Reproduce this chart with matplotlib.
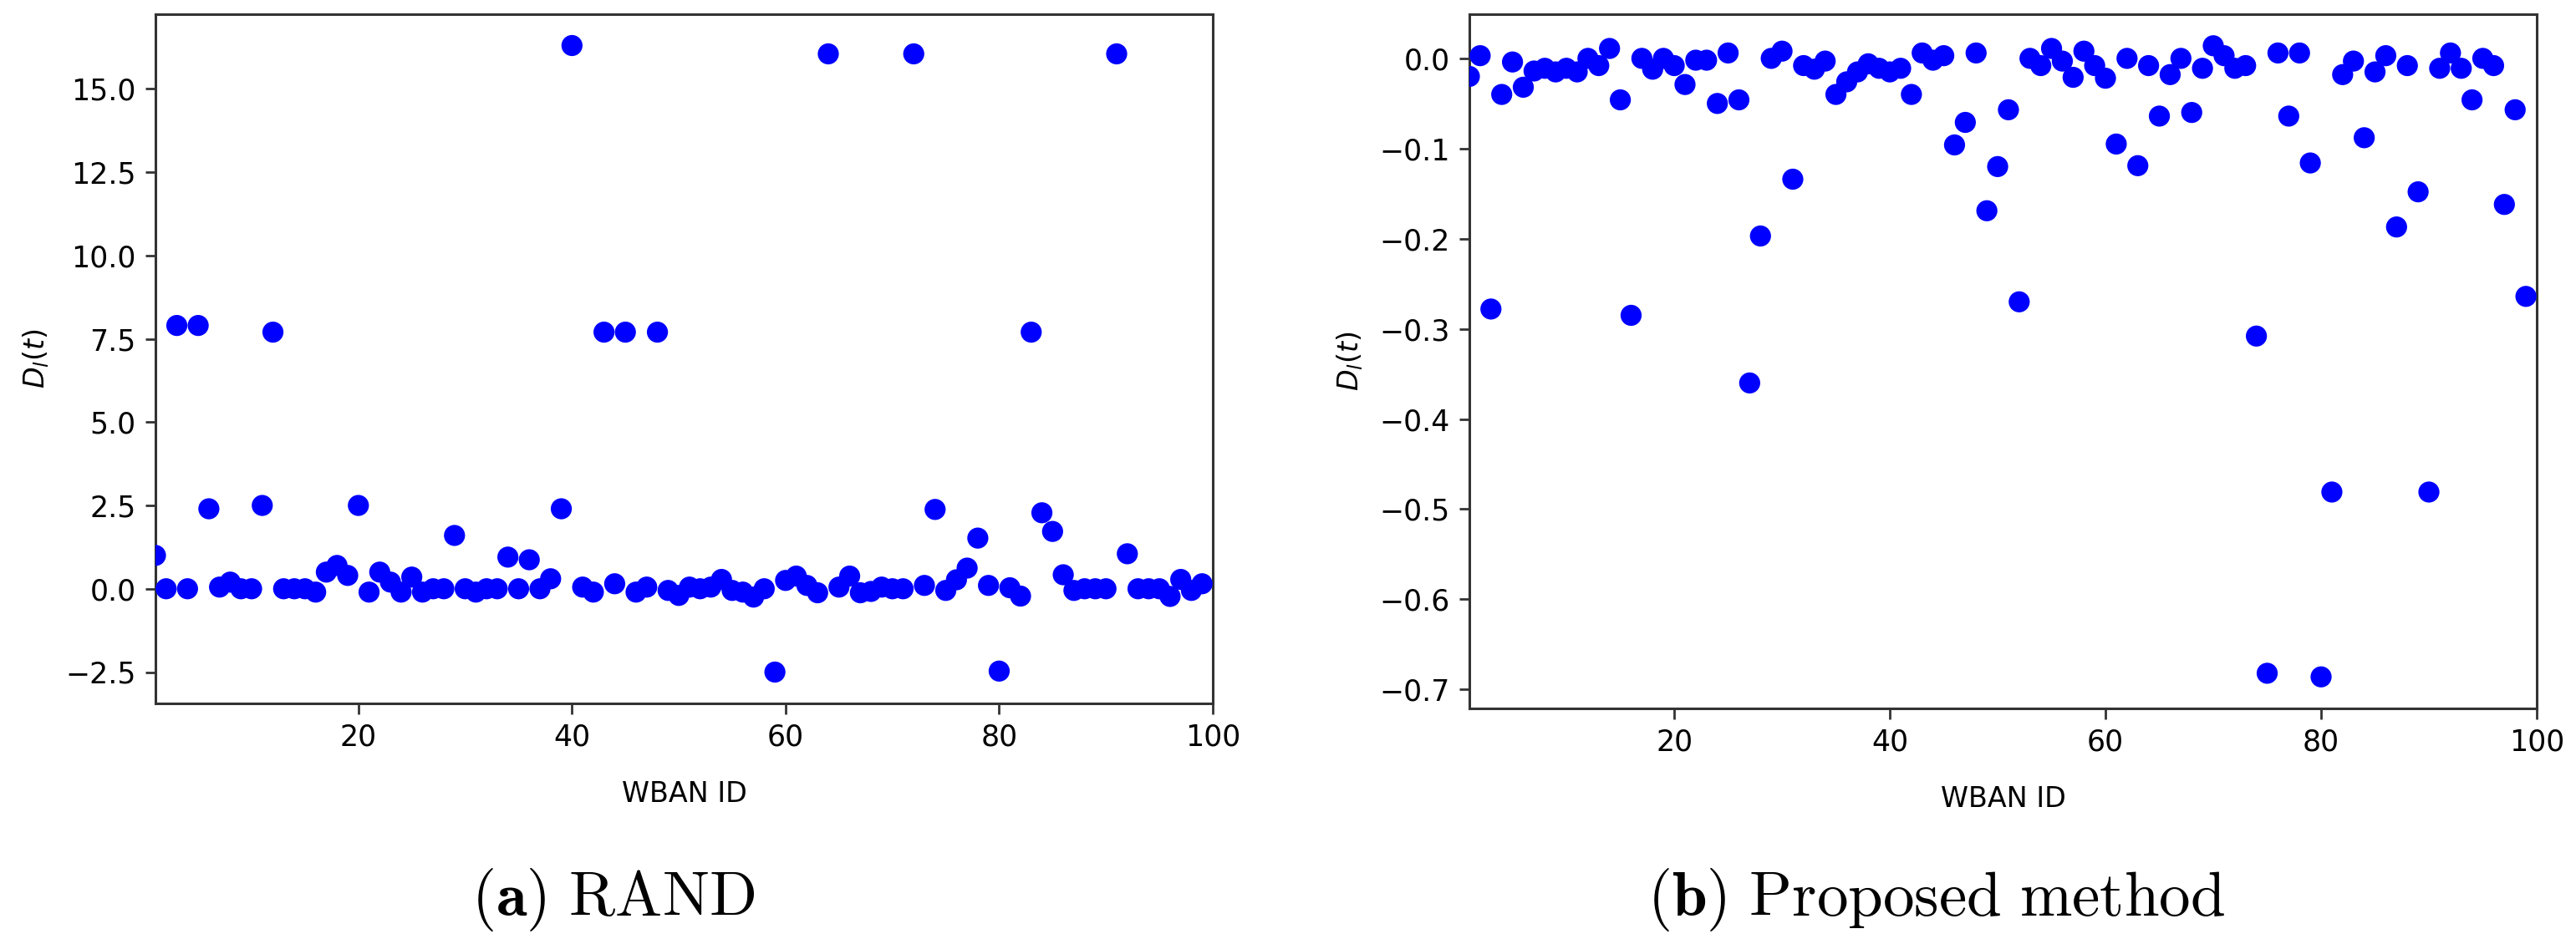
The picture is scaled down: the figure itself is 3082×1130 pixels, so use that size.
import matplotlib
matplotlib.use("Agg")
import matplotlib.pyplot as plt
import numpy as np

# WBAN ids shown on both panels
wban_id = np.arange(1, 100)

# D_l(t), RAND
rand_vals = [
    1.0, 0.0, 7.9, 0.0, 7.9, 2.4, 0.05, 0.2, 0.0, 0.0,
    2.5, 7.7, 0.0, 0.0, 0.0, -0.1, 0.5, 0.7, 0.4, 2.5,
    -0.1, 0.5, 0.2, -0.1, 0.35, -0.1, 0.0, 0.0, 1.6, 0.0,
    -0.1, 0.0, 0.0, 0.95, 0.0, 0.87, 0.0, 0.3, 2.4, 16.3,
    0.05, -0.1, 7.7, 0.15, 7.7, -0.1, 0.05, 7.7, -0.05, -0.2,
    0.05, 0.0, 0.05, 0.28, -0.05, -0.1, -0.25, 0.0, -2.5, 0.25,
    0.38, 0.1, -0.12, 16.05, 0.05, 0.38, -0.12, -0.08, 0.05, 0.0,
    0.0, 16.05, 0.1, 2.38, -0.05, 0.27, 0.62, 1.52, 0.1, -2.47,
    0.03, -0.22, 7.7, 2.28, 1.72, 0.42, -0.05, 0.0, 0.0, 0.0,
    16.05, 1.05, 0.0, 0.0, 0.0, -0.23, 0.28, -0.05, 0.15,
]

# D_l(t), proposed method
prop_vals = [
    -0.02, 0.003, -0.278, -0.04, -0.004, -0.032, -0.014, -0.011, -0.015, -0.011,
    -0.015, 0.0, -0.008, 0.011, -0.046, -0.285, 0.0, -0.012, 0.0, -0.008,
    -0.029, -0.002, -0.002, -0.05, 0.006, -0.046, -0.36, -0.197, 0.0, 0.008,
    -0.134, -0.008, -0.012, -0.003, -0.04, -0.026, -0.015, -0.006, -0.011, -0.015,
    -0.011, -0.04, 0.006, -0.002, 0.003, -0.096, -0.071, 0.006, -0.169, -0.12,
    -0.057, -0.27, 0.0, -0.008, 0.011, -0.003, -0.021, 0.008, -0.008, -0.022,
    -0.095, 0.0, -0.119, -0.008, -0.064, -0.018, 0.0, -0.06, -0.011, 0.014,
    0.003, -0.011, -0.008, -0.308, -0.682, 0.006, -0.064, 0.006, -0.116, -0.686,
    -0.481, -0.018, -0.003, -0.088, -0.015, 0.003, -0.187, -0.008, -0.148, -0.481,
    -0.011, 0.006, -0.011, -0.046, 0.0, -0.008, -0.162, -0.057, -0.264,
]

captions = [r'$(\mathbf{a})\ \mathrm{RAND}$', r'$(\mathbf{b})\ \mathrm{Proposed\ method}$']

W, H = 3082, 1130
fig = plt.figure(figsize=(W / 100, H / 100), dpi=100)

# axes boxes in pixels: left, top, right, bottom
boxes = [(186, 17, 1451, 842), (1758, 17, 3035, 848)]
axes = []
for (l, t, r, b) in boxes:
    ax = fig.add_axes([l / W, 1 - b / H, (r - l) / W, (b - t) / H])
    axes.append(ax)

for ax, vals in zip(axes, [rand_vals, prop_vals]):
    ax.scatter(wban_id, vals, s=330, color='blue', edgecolors='none', zorder=3)
    ax.set_xlim(1, 100)
    ax.set_xticks([20, 40, 60, 80, 100])
    ax.set_xlabel('WBAN ID', fontsize=24, labelpad=25)
    ax.set_ylabel(r'$D_l(t)$', fontsize=24, labelpad=12)
    ax.tick_params(labelsize=25, length=9, width=2, pad=8, color='#333333')
    for sp in ax.spines.values():
        sp.set_linewidth(2.2)
        sp.set_color('#333333')

axes[0].set_yticks(np.arange(-2.5, 15.1, 2.5))
axes[1].set_yticks(np.arange(-0.7, 0.01, 0.1))

# sub-figure captions
fig.text(734 / W, 1 - 1077 / H, captions[0], ha='center', va='center',
         fontsize=54, math_fontfamily='cm')
fig.text(2316 / W, 1 - 1077 / H, captions[1], ha='center', va='center',
         fontsize=54, math_fontfamily='cm')

fig.savefig('out.png', dpi=100)
